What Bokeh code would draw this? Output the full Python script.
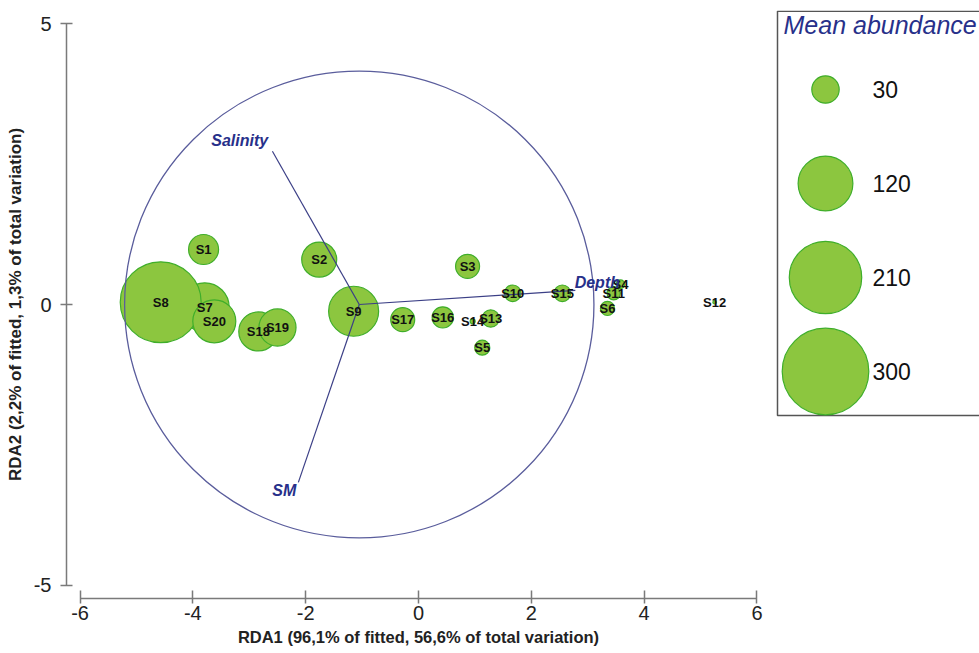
import math
from bokeh.plotting import figure
from bokeh.layouts import row
from bokeh.models import Range1d, FixedTicker, ColumnDataSource
from bokeh.core.properties import value
from bokeh.embed import file_html
from bokeh.resources import INLINE

# --- RDA sample scores and mean abundance ---
samples = ["S1", "S2", "S3", "S4", "S5", "S6", "S7", "S8", "S9", "S10",
           "S11", "S12", "S13", "S14", "S15", "S16", "S17", "S18", "S19", "S20"]
rda1 = [-3.81, -1.76, 0.87, 3.58, 1.13, 3.35, -3.79, -4.57, -1.15, 1.67,
        3.46, 5.25, 1.28, 0.96, 2.55, 0.43, -0.28, -2.84, -2.50, -3.62]
rda2 = [0.98, 0.80, 0.68, 0.36, -0.77, -0.07, -0.05, 0.04, -0.12, 0.20,
        0.20, 0.04, -0.25, -0.30, 0.20, -0.23, -0.27, -0.48, -0.41, -0.30]
abundance = [36, 49, 23, 3, 9, 8, 96, 262, 100, 11,
             7, 0.5, 12, 1, 11, 18, 23, 61, 55, 74]

# --- environmental vectors (origin, tips, label anchors) ---
vec_origin = (-1.05, 0.0)
vec_names = ["Salinity", "SM", "Depth"]
vec_x = [-2.59, -2.13, 2.78]
vec_y = [2.73, -3.17, 0.25]
vec_label_x = [-3.17, -2.38, 3.17]
vec_label_y = [2.92, -3.32, 0.39]
circle_radius = 4.16

# --- legend ---
legend_title = "Mean abundance"
legend_values = [30, 120, 210, 300]

x_ticks = [-6, -4, -2, 0, 2, 4, 6]
y_ticks = [-5, 0, 5]
x_title = "RDA1 (96,1% of fitted, 56,6% of total variation)"
y_title = "RDA2 (2,2% of fitted, 1,3% of total variation)"

FONT = "Liberation Sans"
FILL = "#8cc63f"
EDGE = "#3fae2a"
VEC = "#3b3f86"
VEC_TEXT = "#27308a"
AXIS = "#7a7a7a"

TOP, BOTTOM = 10, 598  # plot frame edges in page pixels


def bubble_size(a):
    # bubble area proportional to abundance
    return 5.0 * math.sqrt(a)


p = figure(width=770, height=653,
           x_range=Range1d(-6.24, 6.24), y_range=Range1d(-5.24, 5.24),
           output_backend="svg", toolbar_location=None,
           min_border_left=66, min_border_right=0,
           min_border_top=TOP, min_border_bottom=653 - BOTTOM)
p.outline_line_color = None
p.grid.visible = False
p.background_fill_color = "white"
p.border_fill_color = "white"

for ax, ticks, bounds in ((p.xaxis, x_ticks, (-6, 6)), (p.yaxis, y_ticks, (-5, 5))):
    ax.ticker = FixedTicker(ticks=ticks)
    ax.major_label_overrides = {t: str(t) for t in ticks}
    ax.bounds = bounds
    ax.axis_line_color = AXIS
    ax.axis_line_width = 1.5
    ax.major_tick_line_color = AXIS
    ax.major_tick_line_width = 1.5
    ax.minor_tick_line_color = None
    ax.major_label_text_font = FONT
    ax.major_label_text_font_size = "20px"
    ax.major_label_text_color = "#222222"
    ax.axis_label_text_font = FONT
    ax.axis_label_text_font_style = "bold"
    ax.axis_label_text_color = "#222222"

p.xaxis.major_tick_in = 8
p.xaxis.major_tick_out = 5
p.xaxis.major_label_standoff = 2
p.xaxis.axis_label_standoff = 5
p.xaxis.axis_label_text_font_size = "16.5px"
p.xaxis.axis_label = x_title

p.yaxis.major_tick_in = 6
p.yaxis.major_tick_out = 6
p.yaxis.major_label_standoff = 9
p.yaxis.axis_label_standoff = 6
p.yaxis.axis_label_text_font_size = "17px"
p.yaxis.axis_label = y_title

src = ColumnDataSource(dict(x=rda1, y=rda2, name=samples,
                            size=[bubble_size(a) for a in abundance]))

# bubbles
p.scatter("x", "y", size="size", source=src, marker="circle",
          fill_color=FILL, line_color=EDGE, line_width=1.2)

# correlation circle and environmental vectors
p.ellipse(x=[vec_origin[0]], y=[vec_origin[1]],
          width=2 * circle_radius, height=2 * circle_radius,
          fill_color=None, line_color="#5a5d9c", line_width=1.3)
p.segment(x0=[vec_origin[0]] * len(vec_x), y0=[vec_origin[1]] * len(vec_y),
          x1=vec_x, y1=vec_y, line_color=VEC, line_width=1.2)

# sample labels
p.text("x", "y", text="name", source=src, text_font=value(FONT),
       text_font_style="bold", text_font_size="13px", text_color="#111111",
       text_align="center", text_baseline="middle")

# vector labels
p.text(x=vec_label_x, y=vec_label_y, text=vec_names, text_font=value(FONT),
       text_font_style="bold italic", text_font_size="16px", text_color=VEC_TEXT,
       text_align="center", text_baseline="middle")

# --- legend panel (page-pixel coordinates, y pointing down) ---
# its frame lines up with the main plot frame inside the row
leg = figure(width=209, height=653, x_range=Range1d(0, 209), y_range=Range1d(BOTTOM, TOP),
             output_backend="svg", toolbar_location=None,
             x_axis_location=None, y_axis_location=None,
             min_border_left=0, min_border_right=0,
             min_border_top=TOP, min_border_bottom=653 - BOTTOM)
leg.grid.visible = False
leg.outline_line_color = None
leg.title.visible = False

leg.quad(left=[7], right=[260], top=[10.8], bottom=[415],
         fill_color=None, line_color="#555555", line_width=1.5)
leg.text(x=[13], y=[24], text=[legend_title], text_font=value(FONT),
         text_font_style="italic", text_font_size="25px", text_color=VEC_TEXT,
         text_align="left", text_baseline="middle")

leg_y = [89 + 94 * i for i in range(len(legend_values))]
leg.scatter(x=[55] * len(legend_values), y=leg_y,
            size=[bubble_size(v) for v in legend_values], marker="circle",
            fill_color=FILL, line_color=EDGE, line_width=1.2)
leg.text(x=[102] * len(legend_values), y=leg_y, text=[str(v) for v in legend_values],
         text_font=value(FONT), text_font_size="23px", text_color="#111111",
         text_align="left", text_baseline="middle")

layout = row(p, leg)
open("out.html", "w").write(file_html(layout, INLINE))
